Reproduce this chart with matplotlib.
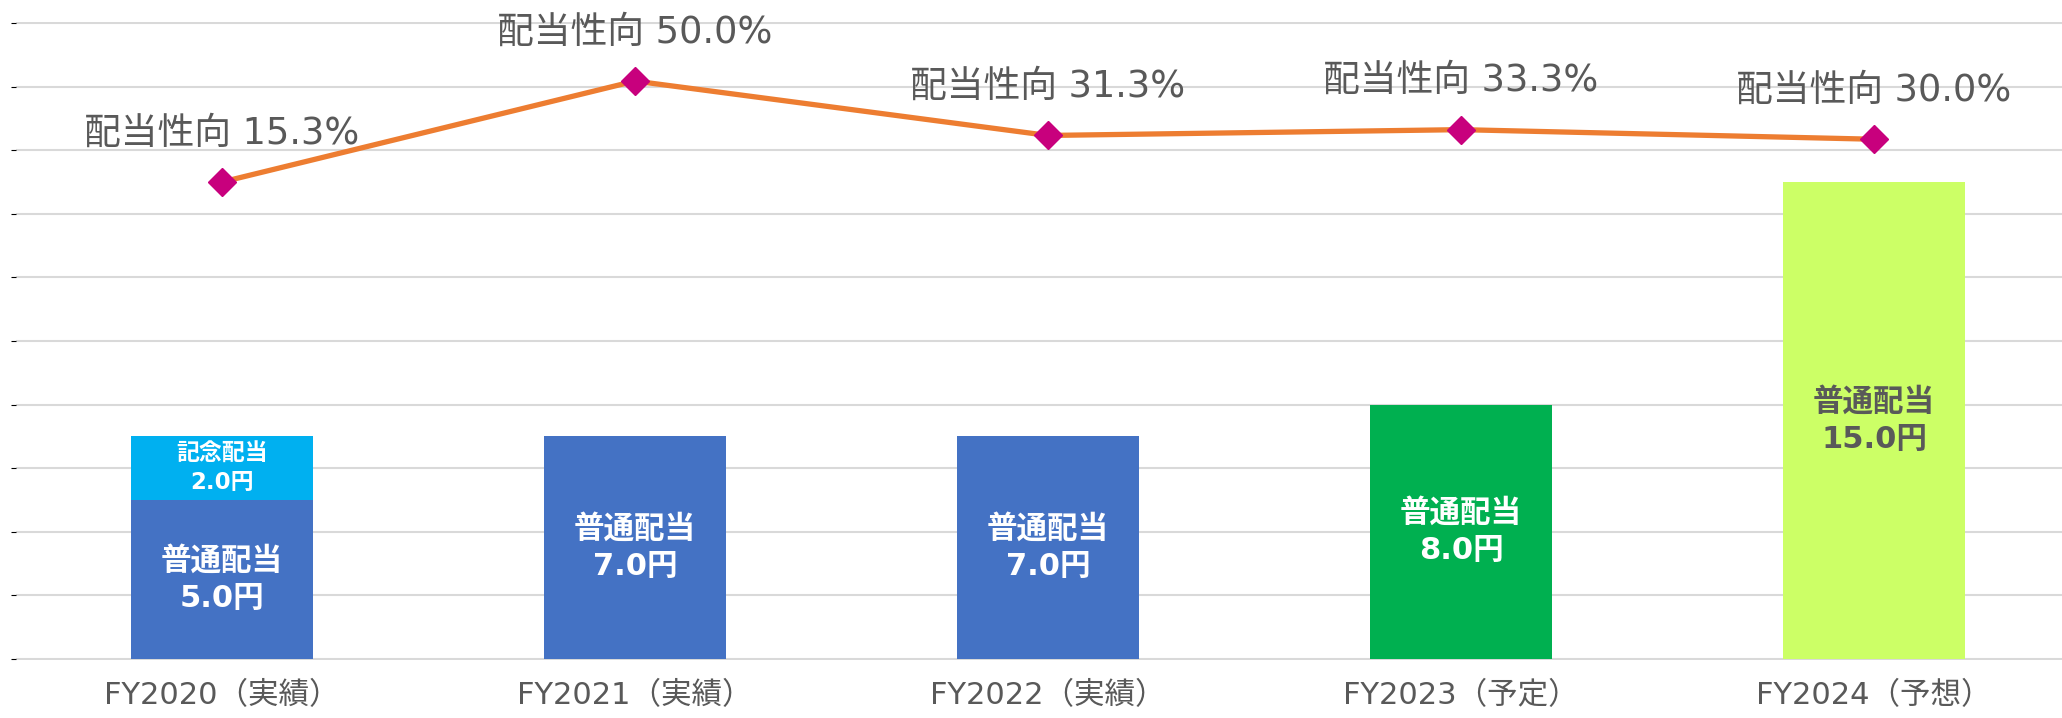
import matplotlib
matplotlib.use('Agg')
import matplotlib.pyplot as plt
import numpy as np

# latin digits from DejaVu (wide, like the original), kanji from Noto CJK
plt.rcParams['font.family'] = ['DejaVu Sans', 'Noto Sans CJK JP']

# data
categories = ['FY2020（実績）', 'FY2021（実績）', 'FY2022（実績）', 'FY2023（予定）', 'FY2024（予想）']
ordinary = [5.0, 7.0, 7.0, 8.0, 15.0]
commemorative = [2.0, 0.0, 0.0, 0.0, 0.0]
payout = [15.3, 50.0, 31.3, 33.3, 30.0]

bar_colors = ['#4472C4', '#4472C4', '#4472C4', '#00B050', '#CCFF66']
text_colors = ['white', 'white', 'white', 'white', '#595959']
GRAY = '#595959'

fig = plt.figure(figsize=(20.62, 7.18), dpi=100)
W, H = 2062, 718
ax = fig.add_axes([15.5 / W, 1 - 660 / H, 1 - 15.5 / W, (660 - 22) / H])

x = np.arange(len(categories))
ax.bar(x, ordinary, width=0.443, color=bar_colors, zorder=2)
ax.bar(x, commemorative, bottom=ordinary, width=0.443, color='#00B0F0', zorder=2)

for i in x:
    ax.text(i, ordinary[i] / 2, f'普通配当\n{ordinary[i]:.1f}円', ha='center', va='center',
            fontsize=22, fontweight='bold', color=text_colors[i], linespacing=1.35, zorder=3)
    if commemorative[i] > 0:
        ax.text(i, ordinary[i] + commemorative[i] / 2, f'記念配当\n{commemorative[i]:.1f}円',
                ha='center', va='center', fontsize=16.5, fontweight='bold', color='white',
                linespacing=1.35, zorder=3)

ax.set_xlim(-0.5, -0.5 + (W - 15.5) / 413)
ax.set_ylim(-0.03, 20.03)
ax.set_yticks(range(0, 21, 2))
ax.yaxis.grid(True, color='#D9D9D9', lw=1.5, zorder=0)
ax.set_axisbelow(True)
ax.tick_params(axis='y', left=False, labelleft=False)
ax.set_xticks(x)
ax.set_xticklabels(categories, fontsize=22, color=GRAY)
ax.tick_params(axis='x', length=0, pad=15)
for s in ax.spines.values():
    s.set_visible(False)

ax2 = ax.twinx()
ax2.plot(x, payout, color='#ED7D31', lw=3.8, marker='D', ms=14,
         mfc='#C8007D', mec='#C8007D', zorder=4)
ax2.set_ylim(-149, 70.3)
ax2.set_yticks([])
for s in ax2.spines.values():
    s.set_visible(False)
for i in x:
    ax2.annotate(f'配当性向 {payout[i]:.1f}%', (i, payout[i]), xytext=(0, 49),
                 textcoords='offset pixels', ha='center', va='center',
                 fontsize=26.5, color=GRAY)

fig.savefig('out.png', dpi=100)
